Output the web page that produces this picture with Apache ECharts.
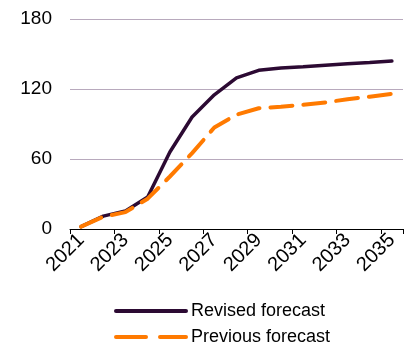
<!DOCTYPE html>
<html>
<head>
<meta charset="utf-8">
<script src="https://cdn.jsdelivr.net/npm/echarts@6/dist/echarts.min.js"></script>
<style>
  html, body { margin: 0; padding: 0; background: #fff; }
  #chart { width: 412px; height: 346px; }
</style>
</head>
<body>
<div id="chart"></div>
<script>
// Forecast years and series values
var years = ['2021','2022','2023','2024','2025','2026','2027','2028','2029','2030','2031','2032','2033','2034','2035'];
var revisedForecast = [2, 11, 15.5, 27.5, 66, 96, 115, 129.5, 136, 138, 139, 140.4, 141.6, 142.7, 144];
var previousForecast = [2, 10.5, 14.5, 26, 45, 65, 87, 98, 103.5, 104.8, 106.5, 108.5, 111.2, 113.4, 115.8];
var yTicks = { min: 0, max: 180, interval: 60 };

var chart = echarts.init(document.getElementById('chart'), null, { renderer: 'canvas' });
var font = 'Liberation Sans, Arial, sans-serif';
var purple = '#2c0a33';
var orange = '#ff7a00';

// One legend component per row so the two entries stack vertically
function legendRow(name, top, lineStyle) {
  return {
    left: 109,
    top: top,
    itemWidth: 70,
    itemHeight: 14,
    itemStyle: { opacity: 0 },
    lineStyle: lineStyle,
    textStyle: { fontFamily: font, fontSize: 18, color: '#000' },
    data: [name]
  };
}

chart.setOption({
  animation: false,
  grid: { left: 70, right: 9, top: 19, bottom: 117 },
  legend: [
    legendRow('Revised forecast', 297, { width: 4, cap: 'round' }),
    legendRow('Previous forecast', 323, { width: 4, type: [30, 14], cap: 'round' })
  ],
  xAxis: {
    type: 'category',
    data: years,
    boundaryGap: true,
    axisLine: { lineStyle: { color: '#000', width: 1 } },
    axisTick: { show: true, length: 5, lineStyle: { color: '#000' } },
    axisLabel: {
      interval: 1,
      rotate: 45,
      margin: 8,
      fontFamily: font,
      fontSize: 20,
      color: '#000'
    }
  },
  yAxis: {
    type: 'value',
    min: yTicks.min,
    max: yTicks.max,
    interval: yTicks.interval,
    axisLine: { show: false },
    axisTick: { show: false },
    axisLabel: { margin: 18, fontFamily: font, fontSize: 19, color: '#000' },
    splitLine: { lineStyle: { color: '#b8a9bd', width: 1 } }
  },
  series: [
    {
      name: 'Revised forecast',
      type: 'line',
      data: revisedForecast,
      symbol: 'none',
      lineStyle: { color: purple, width: 3.5, cap: 'round' },
      itemStyle: { color: purple }
    },
    {
      name: 'Previous forecast',
      type: 'line',
      data: previousForecast,
      symbol: 'none',
      lineStyle: { color: orange, width: 4, type: [22, 11], cap: 'round' },
      itemStyle: { color: orange }
    }
  ]
});
</script>
</body>
</html>
